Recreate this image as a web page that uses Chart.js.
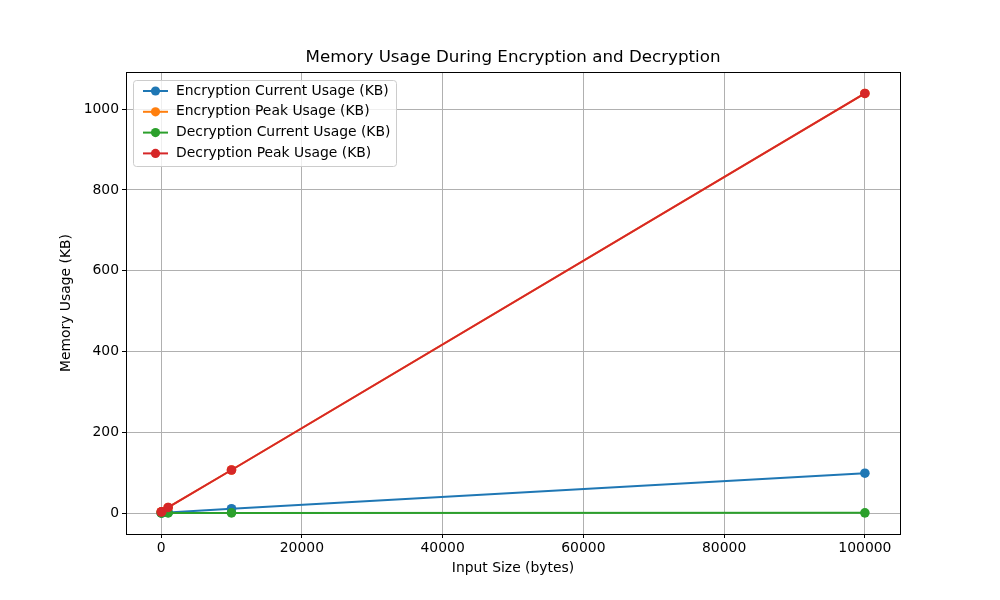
<!DOCTYPE html>
<html>
<head>
<meta charset="utf-8">
<script src="https://cdn.jsdelivr.net/npm/chart.js@4"></script>
<style>
  body { margin: 0; background: #fff; }
  #wrap { width: 1000px; height: 600px; }
</style>
</head>
<body>
<div id="wrap"><canvas id="myChart" width="1000" height="600"></canvas></div>
<script>
const inputSizes = [10, 100, 1000, 10000, 100000];
const encCurrent = [0.3, 0.4, 1.2, 10.5, 98.5];
const encPeak = [2.5, 3.2, 13.8, 106.5, 1039];
const decCurrent = [0.1, 0.1, 0.1, 0.2, 0.4];
const decPeak = [2.5, 3.2, 13.8, 106.5, 1039];
const xTicks = [0, 20000, 40000, 60000, 80000, 100000];
const yTicks = [0, 200, 400, 600, 800, 1000];

const seriesNames = ['Encryption Current Usage (KB)', 'Encryption Peak Usage (KB)', 'Decryption Current Usage (KB)', 'Decryption Peak Usage (KB)'];
const seriesColors = ['#1f77b4', '#ff7f0e', '#2ca02c', '#d62728'];
const seriesValues = [encCurrent, encPeak, decCurrent, decPeak];

const font = 'DejaVu Sans';

const datasets = seriesValues.map((vals, i) => ({
    label: seriesNames[i],
    data: inputSizes.map((x, j) => ({ x: x, y: vals[j] })),
    borderColor: seriesColors[i],
    backgroundColor: seriesColors[i],
    borderWidth: 2,
    pointRadius: 4.8,
    pointHoverRadius: 4.8,
    pointBorderWidth: 0,
    tension: 0,
    order: 4 - i,
}));

// legend drawn inside the plot, like matplotlib
const innerLegend = {
    id: 'innerLegend',
    afterDraw(chart) {
        const c = chart.ctx;
        const x0 = 133, y0 = 80, w = 263, h = 86;
        c.save();
        c.beginPath();
        c.roundRect(x0 + 0.5, y0 + 0.5, w, h, 3);
        c.fillStyle = 'rgba(255,255,255,0.8)';
        c.fill();
        c.strokeStyle = '#cccccc';
        c.lineWidth = 1;
        c.stroke();
        c.font = '13.9px "' + font + '"';
        c.textBaseline = 'middle';
        chart.data.datasets.forEach((ds, i) => {
            const y = y0 + 11 + i * 20.8;
            c.strokeStyle = ds.borderColor;
            c.lineWidth = 2;
            c.beginPath();
            c.moveTo(143, y);
            c.lineTo(168, y);
            c.stroke();
            c.fillStyle = ds.borderColor;
            c.beginPath();
            c.arc(155.5, y, 4.6, 0, Math.PI * 2);
            c.fill();
            c.fillStyle = '#000';
            c.fillText(ds.label, 176, y);
        });
        c.restore();
    }
};

const frame = {
    id: 'frame',
    afterDatasetsDraw(chart) {
        const a = chart.chartArea;
        const c = chart.ctx;
        c.save();
        c.strokeStyle = '#000';
        c.lineWidth = 1;
        c.strokeRect(Math.round(a.left) + 0.5, Math.round(a.top) + 0.5, Math.round(a.right - a.left), Math.round(a.bottom - a.top));
        c.restore();
    }
};

const config = {
    type: 'line',
    data: { datasets: datasets },
    options: {
        responsive: false,
        animation: false,
        layout: { padding: { left: 0, right: 100, top: 0, bottom: 0 } },
        plugins: {
            legend: { display: false },
            tooltip: { enabled: false },
            title: {
                display: true,
                fullSize: false,
                text: 'Memory Usage During Encryption and Decryption',
                color: '#000',
                font: { family: font, size: 16.7, weight: 'normal' },
                padding: { top: 48, bottom: 4 },
            },
        },
        scales: {
            x: {
                type: 'linear',
                min: -4990,
                max: 104990,
                afterBuildTicks: (axis) => { axis.ticks = xTicks.map(v => ({ value: v })); },
                afterFit: (axis) => { axis.height = 66; },
                ticks: {
                    color: '#000',
                    font: { family: font, size: 13.9 },
                    padding: 2,
                    maxRotation: 0,
                    callback: (v) => String(v),
                },
                grid: { color: '#b0b0b0', tickColor: '#000', tickLength: 4, lineWidth: 1 },
                border: { display: false },
                title: {
                    display: true,
                    text: 'Input Size (bytes)',
                    color: '#000',
                    font: { family: font, size: 13.9 },
                    padding: { top: 23, bottom: 23 },
                },
            },
            y: {
                type: 'linear',
                min: -52,
                max: 1092,
                afterBuildTicks: (axis) => { axis.ticks = yTicks.map(v => ({ value: v })); },
                afterFit: (axis) => { axis.width = 126; },
                ticks: {
                    color: '#000',
                    font: { family: font, size: 13.9 },
                    padding: 3,
                    callback: (v) => String(v),
                },
                grid: { color: '#b0b0b0', tickColor: '#000', tickLength: 4, lineWidth: 1 },
                border: { display: false },
                title: {
                    display: true,
                    text: 'Memory Usage (KB)',
                    color: '#000',
                    font: { family: font, size: 13.9 },
                    padding: { top: 58, bottom: 58 },
                },
            },
        },
    },
    plugins: [frame, innerLegend],
};

const myChart = new Chart(document.getElementById('myChart').getContext('2d'), config);
</script>
</body>
</html>
